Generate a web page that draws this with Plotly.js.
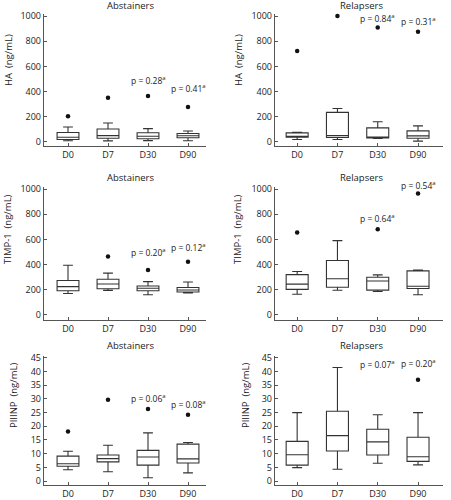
<!DOCTYPE html>
<html>
<head>
<meta charset="utf-8">
<script src="https://cdn.plot.ly/plotly-3.0.1.min.js"></script>
<style>html,body{margin:0;padding:0;background:#fff;}#chart{width:451px;height:500px;}</style>
</head>
<body>
<div id="chart"></div>
<script>
// ---------- DATA ----------
const categories = ["D0", "D7", "D30", "D90"];

// HA (ng/mL) - Abstainers
const haAbsLower  = [10, 9, 11, 10];
const haAbsQ1     = [20, 30, 26, 34];
const haAbsMedian = [38, 50, 46, 49];
const haAbsQ3     = [75, 103, 73, 67];
const haAbsUpper  = [119, 151, 106, 87];
const haAbsOut    = [205, 352, 365, 278];
const haAbsP      = [null, null, "p = 0.28<sup>a</sup>", "p = 0.41<sup>a</sup>"];

// HA (ng/mL) - Relapsers
const haRelLower  = [20, 20, 27, 7];
const haRelQ1     = [38, 35, 31, 29];
const haRelMedian = [45, 50, 37, 48];
const haRelQ3     = [72, 235, 112, 88];
const haRelUpper  = [76, 266, 160, 128];
const haRelOut    = [722, 1000, 908, 876];
const haRelP      = [null, null, "p = 0.84<sup>a</sup>", "p = 0.31<sup>a</sup>"];

// TIMP-1 (ng/mL) - Abstainers
const timpAbsLower  = [170, 195, 160, 175];
const timpAbsQ1     = [192, 208, 192, 182];
const timpAbsMedian = [225, 246, 212, 198];
const timpAbsQ3     = [274, 283, 230, 218];
const timpAbsUpper  = [395, 332, 265, 262];
const timpAbsOut    = [null, 465, 357, 423];
const timpAbsP      = [null, null, "p = 0.20<sup>a</sup>", "p = 0.12<sup>a</sup>"];

// TIMP-1 (ng/mL) - Relapsers
const timpRelLower  = [165, 196, 186, 160];
const timpRelQ1     = [203, 220, 197, 210];
const timpRelMedian = [245, 288, 270, 228];
const timpRelQ3     = [320, 432, 300, 350];
const timpRelUpper  = [345, 590, 318, 357];
const timpRelOut    = [655, null, 680, 965];
const timpRelP      = [null, null, "p = 0.64<sup>a</sup>", "p = 0.54<sup>a</sup>"];

// PIIINP (ng/mL) - Abstainers
const p3AbsLower  = [4.1, 3.4, 1.2, 3.0];
const p3AbsQ1     = [5.4, 7.0, 5.8, 6.6];
const p3AbsMedian = [6.3, 8.2, 8.8, 8.1];
const p3AbsQ3     = [9.1, 9.5, 11.2, 13.5];
const p3AbsUpper  = [10.9, 13.1, 17.6, 14.1];
const p3AbsOut    = [18.1, 29.7, 26.3, 24.2];
const p3AbsP      = [null, null, "p = 0.06<sup>a</sup>", "p = 0.08<sup>a</sup>"];

// PIIINP (ng/mL) - Relapsers
const p3RelLower  = [4.9, 4.3, 6.5, 5.9];
const p3RelQ1     = [5.8, 11.0, 9.5, 7.2];
const p3RelMedian = [9.6, 16.6, 14.3, 8.9];
const p3RelQ3     = [14.5, 25.5, 18.9, 16.0];
const p3RelUpper  = [25.0, 41.5, 24.2, 25.0];
const p3RelOut    = [null, null, null, 37.0];
const p3RelP      = [null, null, "p = 0.07<sup>a</sup>", "p = 0.20<sup>a</sup>"];

const groupTitles = ["Abstainers", "Relapsers"];
const yTitles = ["HA\u00a0 (ng/mL)", "TIMP-1\u00a0 (ng/mL)", "PIIINP\u00a0 (ng/mL)"];
const yTicksK = [0, 200, 400, 600, 800, 1000];
const yTicksP = [0, 5, 10, 15, 20, 25, 30, 35, 40, 45];

// ---------- BUILD ----------
const W = 451, H = 500;
const FONT = "Open Sans, Noto Sans, sans-serif";
const TXT = "#222";
const LINE = "#555";

// p-value label heights (data units) and extra pixel shift for labels above the axis top
const panels = [
  {lo: haAbsLower, q1: haAbsQ1, md: haAbsMedian, q3: haAbsQ3, hi: haAbsUpper, out: haAbsOut, p: haAbsP, pY: [null, null, 492, 428], pShift: [0, 0, 0, 0], row: 0, col: 0},
  {lo: haRelLower, q1: haRelQ1, md: haRelMedian, q3: haRelQ3, hi: haRelUpper, out: haRelOut, p: haRelP, pY: [null, null, 985, 958], pShift: [0, 0, 0, 0], row: 0, col: 1},
  {lo: timpAbsLower, q1: timpAbsQ1, md: timpAbsMedian, q3: timpAbsQ3, hi: timpAbsUpper, out: timpAbsOut, p: timpAbsP, pY: [null, null, 497, 542], pShift: [0, 0, 0, 0], row: 1, col: 0},
  {lo: timpRelLower, q1: timpRelQ1, md: timpRelMedian, q3: timpRelQ3, hi: timpRelUpper, out: timpRelOut, p: timpRelP, pY: [null, null, 772, 1000], pShift: [0, 0, 0, 4.5], row: 1, col: 1},
  {lo: p3AbsLower, q1: p3AbsQ1, md: p3AbsMedian, q3: p3AbsQ3, hi: p3AbsUpper, out: p3AbsOut, p: p3AbsP, pY: [null, null, 30.4, 28.2], pShift: [0, 0, 0, 0], row: 2, col: 0},
  {lo: p3RelLower, q1: p3RelQ1, md: p3RelMedian, q3: p3RelQ3, hi: p3RelUpper, out: p3RelOut, p: p3RelP, pY: [null, null, 42.6, 43.2], pShift: [0, 0, 0, 0], row: 2, col: 1}
];

// pixel layout
const rowPx = [[14, 146], [187, 320], [356, 485]];
const colPx = [[44, 206], [275, 443]];
const xRanges = [[-0.6, 3.45], [-0.55, 3.62]];
const yRanges = [[-32, 1016], [-40, 1016], [-1.45, 45.7]];
const titleY = [5, 177, 345];
const titleX = [130, 361];
const yTitleX = [[8, 238], [8, 238], [13, 245]];
const yTitleY = [60, 229, 395];

const traces = [];
const layout = {
  width: W, height: H,
  margin: {l: 0, r: 0, t: 0, b: 0},
  paper_bgcolor: "#fff", plot_bgcolor: "#fff",
  showlegend: false,
  font: {family: FONT, size: 9, color: TXT},
  boxgap: 0.22,
  annotations: []
};

panels.forEach((pn, i) => {
  const k = i + 1;
  const xa = "x" + (k === 1 ? "" : k), ya = "y" + (k === 1 ? "" : k);
  const xName = "xaxis" + (k === 1 ? "" : k), yName = "yaxis" + (k === 1 ? "" : k);
  traces.push({
    type: "box", x: categories, xaxis: xa, yaxis: ya,
    q1: pn.q1, median: pn.md, q3: pn.q3, lowerfence: pn.lo, upperfence: pn.hi,
    boxpoints: false, whiskerwidth: 0.45,
    fillcolor: "rgba(255,255,255,0)",
    line: {color: "#333", width: 1.1},
    hoverinfo: "skip"
  });
  const ox = [], oy = [];
  pn.out.forEach((v, j) => { if (v !== null) { ox.push(categories[j]); oy.push(v); } });
  traces.push({
    type: "scatter", mode: "markers", x: ox, y: oy, xaxis: xa, yaxis: ya,
    marker: {color: "#111", size: 4.5}, cliponaxis: false, hoverinfo: "skip"
  });
  const cp = colPx[pn.col], rp = rowPx[pn.row];
  layout[xName] = {
    domain: [cp[0] / W, cp[1] / W], anchor: ya,
    type: "category", categoryorder: "array", categoryarray: categories,
    range: xRanges[pn.col],
    showline: true, linecolor: LINE, linewidth: 1.2, mirror: false,
    ticks: "inside", ticklen: 3, tickcolor: LINE, tickwidth: 1,
    showgrid: false, zeroline: false, fixedrange: true,
    tickfont: {family: FONT, size: 9, color: TXT}
  };
  const isP = pn.row === 2;
  layout[yName] = {
    domain: [1 - rp[1] / H, 1 - rp[0] / H], anchor: xa,
    range: yRanges[pn.row],
    tickmode: "array", tickvals: isP ? yTicksP : yTicksK,
    showline: true, linecolor: LINE, linewidth: 1.2,
    ticks: "inside", ticklen: 3, tickcolor: LINE, tickwidth: 1,
    showgrid: false, zeroline: false, fixedrange: true,
    tickfont: {family: FONT, size: 9, color: TXT}
  };
  layout.annotations.push({
    xref: "paper", yref: "paper", x: titleX[pn.col] / W, y: 1 - titleY[pn.row] / H,
    xanchor: "center", yanchor: "middle", showarrow: false,
    text: groupTitles[pn.col], font: {family: FONT, size: 9.5, color: TXT}
  });
  layout.annotations.push({
    xref: "paper", yref: "paper", x: yTitleX[pn.row][pn.col] / W, y: 1 - yTitleY[pn.row] / H,
    xanchor: "center", yanchor: "middle", showarrow: false, textangle: -90,
    text: yTitles[pn.row], font: {family: FONT, size: 9.5, color: TXT}
  });
  pn.p.forEach((t, j) => {
    if (t === null) return;
    layout.annotations.push({
      xref: xa, yref: ya, x: categories[j], y: pn.pY[j], yshift: pn.pShift[j],
      xanchor: "center", yanchor: "middle", showarrow: false,
      text: t, font: {family: FONT, size: 8.5, color: TXT}
    });
  });
});

Plotly.newPlot("chart", traces, layout, {staticPlot: true, displayModeBar: false});
</script>
</body>
</html>
